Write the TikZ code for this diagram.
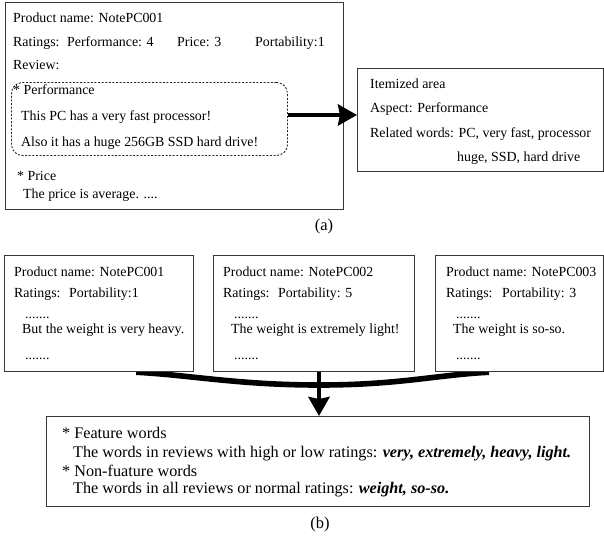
\documentclass[tikz,border=0pt]{standalone}
\usepackage{fontspec}
\setmainfont{Liberation Serif}
\usetikzlibrary{arrows.meta,calc}
\pgfdeclarelayer{background}
\pgfsetlayers{background,main}
\begin{document}
\begin{tikzpicture}[x=1pt,y=-1pt,
  box/.style={draw=black!78, line width=1.2pt, fill=white, inner sep=0pt, anchor=north west},
  dashbox/.style={draw=black!85, line width=0.9pt, dash pattern=on 2pt off 1.6pt, rounded corners=11pt, inner sep=0pt, anchor=north west},
  txt/.style={anchor=base west, inner sep=0pt, font=\fontsize{13.9}{16}\selectfont},
  big/.style={anchor=base west, inner sep=0pt, font=\fontsize{16.2}{18}\selectfont},
  lbl/.style={anchor=base, inner sep=0pt, font=\fontsize{16.5}{18}\selectfont},
  fatarrow/.style={line width=4.6pt, -{Stealth[length=19pt,width=21pt,inset=2pt]}},
  fatcurve/.style={line width=5.6pt},
]
\useasboundingbox (0,0) rectangle (604,539);

% ---------- (a) ----------
\node[box, minimum width=338.5pt, minimum height=207pt] (A) at (4.5,2) {};
\node[dashbox, minimum width=276pt, minimum height=73pt] (D) at (11,82) {};
\node[box, minimum width=246pt, minimum height=103pt] (R) at (357,68) {};

\node[txt] (a1) at (13,22) {Product name: NotePC001};
\node[txt] (a2) at (13,46) {Ratings:};
\node[txt] (a3) at (67,46) {Performance: 4};
\node[txt] (a4) at (177,46) {Price: 3};
\node[txt] (a5) at (255,46) {Portability:1};
\node[txt] (a6) at (13,69) {Review:};
\node[txt] (a7) at (13,94) {* Performance};
\node[txt] (a8) at (21,120) {This PC has a very fast processor!};
\node[txt] (a9) at (21,146) {Also it has a huge 256GB SSD hard drive!};
\node[txt] (a10) at (17,180) {* Price};
\node[txt] (a11) at (23,198) {The price is average. ....};

\node[txt] (r1) at (370,88) {Itemized area};
\node[txt] (r2) at (370,112) {Aspect: Performance};
\node[txt] (r3) at (370,137) {Related words: PC, very fast, processor};
\node[txt] (r4) at (457,161) {huge, SSD, hard drive};

\coordinate (ay) at (0,115);
\draw[fatarrow] (D.east |- ay) -- (R.west |- ay);

\node[lbl] (la) at (324,230) {(a)};

% ---------- (b) ----------
\node[box, minimum width=189pt, minimum height=116pt] (b1) at (4,255) {};
\node[box, minimum width=201pt, minimum height=116pt] (b2) at (213,255) {};
\node[box, minimum width=168pt, minimum height=116pt] (b3) at (435,255) {};
\node[box, minimum width=543pt, minimum height=90pt] (F) at (46,416) {};

\node[txt] (p1) at (14,276) {Product name: NotePC001};
\node[txt] (q1) at (14,297) {Ratings:};
\node[txt] (s1) at (69,297) {Portability:1};
\node[txt] (d1) at (25,318) {.......};
\node[txt] (w1) at (22,333) {But the weight is very heavy.};
\node[txt] (e1) at (25,359) {.......};

\node[txt] (p2) at (223,276) {Product name: NotePC002};
\node[txt] (q2) at (223,297) {Ratings:};
\node[txt] (s2) at (278,297) {Portability: 5};
\node[txt] (d2) at (234,318) {.......};
\node[txt] (w2) at (231,333) {The weight is extremely light!};
\node[txt] (e2) at (234,359) {.......};

\node[txt] (p3) at (446,276) {Product name: NotePC003};
\node[txt] (q3) at (446,297) {Ratings:};
\node[txt] (s3) at (502,297) {Portability: 3};
\node[txt] (d3) at (456,318) {.......};
\node[txt] (w3) at (453,333) {The weight is so-so.};
\node[txt] (e3) at (456,359) {.......};

\node[big] (f1) at (62,438) {* Feature words};
\node[big] (f2) at (73,457) {The words in reviews with high or low ratings: \textbf{\textit{very, extremely, heavy, light.}}};
\node[big] (f3) at (62,476) {* Non-fuature words};
\node[big] (f4) at (73,493) {The words in all reviews or normal ratings: \textbf{\textit{weight, so-so.}}};

\coordinate (m) at (319,385);
\coordinate (c1) at ($(b1.south east)+(-58,0)$);
\coordinate (c3) at ($(b3.south west)+(54,0)$);
\begin{pgfonlayer}{background}
\draw[fatcurve] (c1) .. controls ($(c1)+(55,3)$) and ($(m)+(-80,0)$) .. (m);
\draw[fatcurve] (c3) .. controls ($(c3)+(-55,3)$) and ($(m)+(80,0)$) .. (m);
\end{pgfonlayer}
\draw[fatarrow] (b2.south -| m) -- (F.north -| m);

\node[lbl] (lb) at (320,528) {(b)};
\end{tikzpicture}
\end{document}
